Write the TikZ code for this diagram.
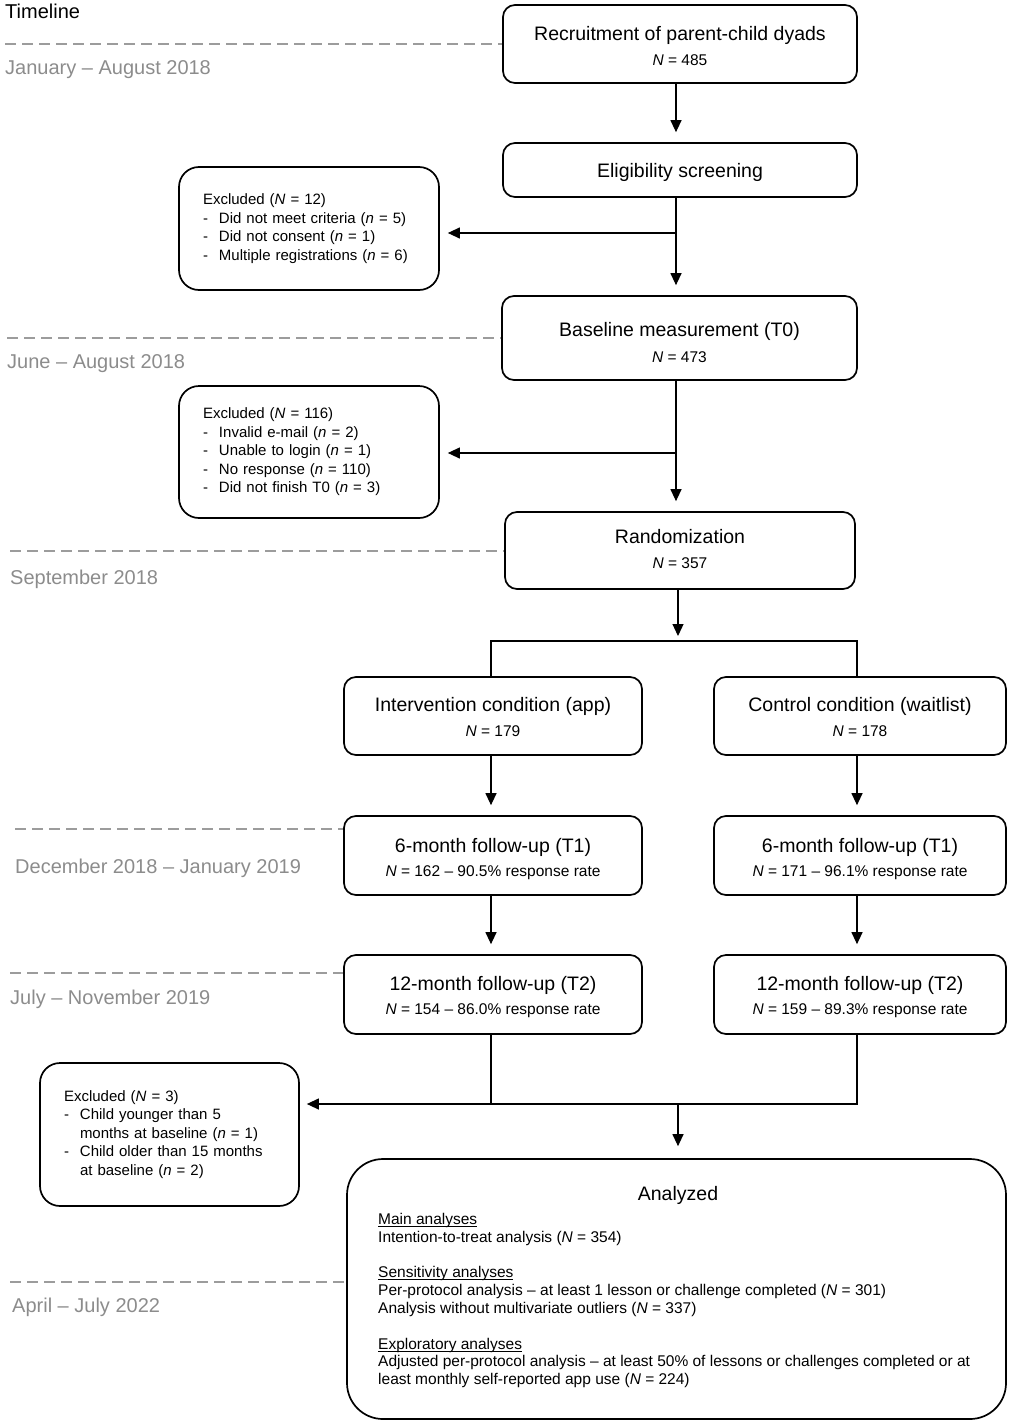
\documentclass[tikz,border=0pt]{standalone}
\usepackage{fontspec}
\setmainfont{Liberation Sans}
\usetikzlibrary{arrows.meta}
\definecolor{tlgray}{HTML}{8C8C8C}
\definecolor{dashgray}{HTML}{9C9C9C}
\newcommand\myul[1]{\setbox0\hbox{#1}\rlap{\rule[-2.4pt]{\wd0}{0.9pt}}\box0}
\begin{document}
\begin{tikzpicture}[x=1pt,y=1pt,
  box/.style={draw=black, line width=1.7pt, rounded corners=12pt, inner sep=0pt},
  exbox/.style={draw=black, line width=1.7pt, rounded corners=20pt, inner xsep=24pt, inner ysep=0pt,
     align=left, text width=#1, font=\fontsize{15}{18.5}\selectfont},
  ttl/.style={anchor=base, inner sep=0pt, font=\fontsize{19.5}{24}\selectfont},
  nl/.style={anchor=base, inner sep=0pt, font=\fontsize{15.5}{18}\selectfont},
  conn/.style={line width=1.2pt},
  arr/.style={conn, -{Triangle[width=11pt,length=12pt]}, shorten >=10pt},
  tl/.style={draw=dashgray, line width=1.3pt, dash pattern=on 11pt off 6pt},
  tlab/.style={anchor=base west, inner sep=0pt, text=tlgray, font=\fontsize{20}{24}\selectfont}
]
\useasboundingbox (0,0) rectangle (1014,-1424);

% ---- main boxes
\node[box, minimum width=354pt, minimum height=78pt] (rec) at (680,-44) {};
\node[ttl] (rec-t) at (680,-40.7) {Recruitment of parent-child dyads};
\node[nl] (rec-n) at (680,-65.5) {\textit{N} = 485};

\node[box, minimum width=354pt, minimum height=54pt] (elig) at (680,-170) {};
\node[ttl] (elig-t) at (680,-177.7) {Eligibility screening};

\node[box, minimum width=355pt, minimum height=84pt] (base) at (679.5,-338) {};
\node[ttl] (base-t) at (679.5,-336.7) {Baseline measurement (T0)};
\node[nl] (base-n) at (679.5,-362) {\textit{N} = 473};

\node[box, minimum width=350pt, minimum height=77pt] (rand) at (680,-550.5) {};
\node[ttl] (rand-t) at (680,-543.7) {Randomization};
\node[nl] (rand-n) at (680,-568.5) {\textit{N} = 357};

\node[box, minimum width=298pt, minimum height=78pt] (int) at (493,-716) {};
\node[ttl] (int-t) at (493,-711.7) {Intervention condition (app)};
\node[nl] (int-n) at (493,-736) {\textit{N} = 179};

\node[box, minimum width=292pt, minimum height=78pt] (ctrl) at (860,-716) {};
\node[ttl] (ctrl-t) at (860,-711.7) {Control condition (waitlist)};
\node[nl] (ctrl-n) at (860,-736) {\textit{N} = 178};

\node[box, minimum width=298pt, minimum height=79pt] (t1i) at (493,-855.5) {};
\node[ttl] (t1i-t) at (493,-852.7) {6-month follow-up (T1)};
\node[nl] (t1i-n) at (493,-876.5) {\textit{N} = 162 – 90.5\% response rate};

\node[box, minimum width=292pt, minimum height=79pt] (t1c) at (860,-855.5) {};
\node[ttl] (t1c-t) at (860,-852.7) {6-month follow-up (T1)};
\node[nl] (t1c-n) at (860,-876.5) {\textit{N} = 171 – 96.1\% response rate};

\node[box, minimum width=298pt, minimum height=79pt] (t2i) at (493,-994.5) {};
\node[ttl] (t2i-t) at (493,-990.7) {12-month follow-up (T2)};
\node[nl] (t2i-n) at (493,-1014.5) {\textit{N} = 154 – 86.0\% response rate};

\node[box, minimum width=292pt, minimum height=79pt] (t2c) at (860,-994.5) {};
\node[ttl] (t2c-t) at (860,-990.7) {12-month follow-up (T2)};
\node[nl] (t2c-n) at (860,-1014.5) {\textit{N} = 159 – 89.3\% response rate};

% ---- excluded boxes
\node[exbox=212pt, minimum height=123pt] (ex1) at (309,-228.5) {%
Excluded (\textit{N} = 12)\\
\makebox[16pt][l]{-}Did not meet criteria (\textit{n} = 5)\\
\makebox[16pt][l]{-}Did not consent (\textit{n} = 1)\\
\makebox[16pt][l]{-}Multiple registrations (\textit{n} = 6)};

\node[exbox=212pt, minimum height=132pt] (ex2) at (309,-452) {%
Excluded (\textit{N} = 116)\\
\makebox[16pt][l]{-}Invalid e-mail (\textit{n} = 2)\\
\makebox[16pt][l]{-}Unable to login (\textit{n} = 1)\\
\makebox[16pt][l]{-}No response (\textit{n} = 110)\\
\makebox[16pt][l]{-}Did not finish T0 (\textit{n} = 3)};

\node[exbox=211pt, minimum height=143pt] (ex3) at (169.5,-1134.5) {%
Excluded (\textit{N} = 3)\\
\makebox[16pt][l]{-}Child younger than 5\\
\hspace*{16pt}months at baseline (\textit{n} = 1)\\
\makebox[16pt][l]{-}Child older than 15 months\\
\hspace*{16pt}at baseline (\textit{n} = 2)};

% ---- analyzed
\node[box, rounded corners=36pt, minimum width=659pt, minimum height=260pt] (ana) at (676.5,-1289) {};
\node[ttl] (ana-t) at (678,-1200) {Analyzed};
\node[anchor=north west, inner sep=0pt, align=left, font=\fontsize{15.5}{17.8}\selectfont] (ana-b) at (378,-1213) {%
\myul{Main analyses}\\
Intention-to-treat analysis (\textit{N} = 354)\\[17.8pt]
\myul{Sensitivity analyses}\\
Per-protocol analysis – at least 1 lesson or challenge completed (\textit{N} = 301)\\
Analysis without multivariate outliers (\textit{N} = 337)\\[17.8pt]
\myul{Exploratory analyses}\\
Adjusted per-protocol analysis – at least 50\% of lessons or challenges completed or at\\
least monthly self-reported app use (\textit{N} = 224)};

% ---- timeline
\node[anchor=base west, inner sep=0pt, font=\fontsize{20}{24}\selectfont] (tl-title) at (5,-19) {Timeline};
\coordinate (d1) at (5,-44);
\coordinate (d2) at (7,-338);
\coordinate (d3) at (10,-551);
\coordinate (d4) at (15,-829);
\coordinate (d5) at (10,-973);
\coordinate (d6) at (10,-1282);
\draw[tl] (d1) -- (d1 -| rec.west);
\draw[tl] (d2) -- (d2 -| base.west);
\draw[tl] (d3) -- (d3 -| rand.west);
\draw[tl] (d4) -- (d4 -| t1i.west);
\draw[tl] (d5) -- (d5 -| t2i.west);
\draw[tl] (d6) -- (d6 -| ana.west);
\node[tlab] (l1) at (5,-74) {January – August 2018};
\node[tlab] (l2) at (7,-368) {June – August 2018};
\node[tlab] (l3) at (10,-584) {September 2018};
\node[tlab] (l4) at (15,-873) {December 2018 – January 2019};
\node[tlab] (l5) at (10,-1004) {July – November 2019};
\node[tlab] (l6) at (12,-1312) {April – July 2022};

% ---- connectors
\coordinate (cA) at (676,0);
\coordinate (cM) at (678,0);
\coordinate (cL) at (491,0);
\coordinate (cR) at (857,0);
\draw[arr] (rec.south -| cA) -- (elig.north -| cA);
\draw[arr] (elig.south -| cA) -- (base.north -| cA);
\coordinate (j1) at (676,-233);
\draw[arr, shorten >=8pt] (j1) -- (ex1.east |- j1);
\draw[arr] (base.south -| cA) -- (rand.north -| cA);
\coordinate (j2) at (676,-453);
\draw[arr, shorten >=8pt] (j2) -- (ex2.east |- j2);
\coordinate (j3) at (678,-641);
\draw[arr, shorten >=5pt] (rand.south -| cM) -- (j3);
\draw[conn] (int.north -| cL) |- (j3) -| (ctrl.north -| cR);
\draw[arr] (int.south -| cL) -- (t1i.north -| cL);
\draw[arr] (ctrl.south -| cR) -- (t1c.north -| cR);
\draw[arr] (t1i.south -| cL) -- (t2i.north -| cL);
\draw[arr] (t1c.south -| cR) -- (t2c.north -| cR);
\coordinate (j4) at (678,-1104);
\draw[conn] (t2i.south -| cL) |- (j4) -| (t2c.south -| cR);
\draw[arr, shorten >=7pt] (j4 -| cL) -- (ex3.east |- j4);
\draw[arr, shorten >=12pt] (j4) -- (ana.north -| j4);
\end{tikzpicture}
\end{document}
